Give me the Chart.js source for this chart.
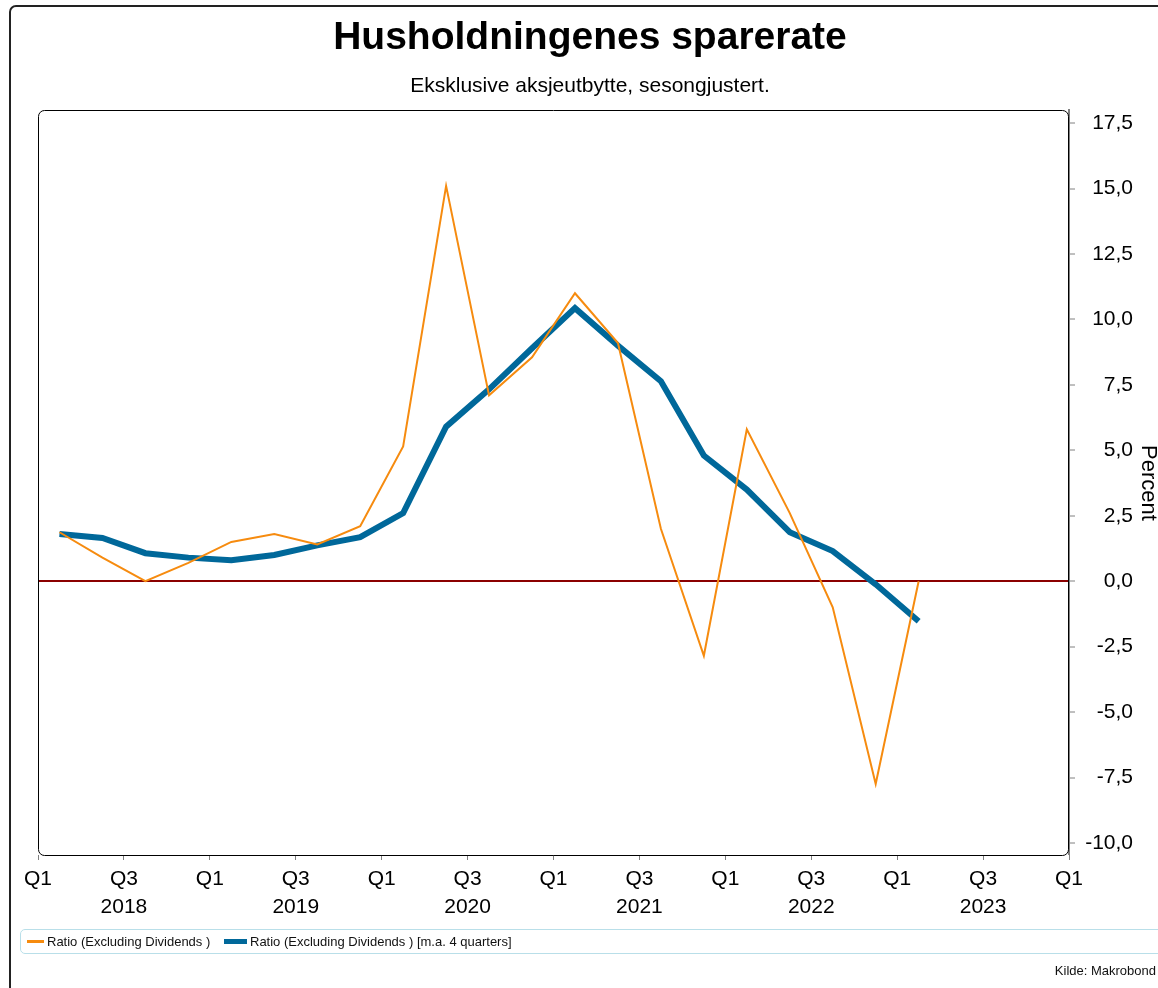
<!DOCTYPE html>
<html>
<head>
<meta charset="utf-8">
<script src="https://cdn.jsdelivr.net/npm/chart.js@4.4.1/dist/chart.umd.min.js"></script>
<style>
    body { margin: 0; background: #fff; font-family: "Liberation Sans", Arial, sans-serif; }
    #wrap { position: relative; width: 1158px; height: 988px; overflow: hidden; }
    #frame { position: absolute; left: 9px; top: 5px; width: 1200px; height: 1100px; border: 2px solid #222; border-radius: 7px; }
    #title { position: absolute; left: 0; width: 1180px; top: 14px; text-align: center; font-weight: bold; font-size: 39px; color: #000; }
    #subtitle { position: absolute; left: 0; width: 1180px; top: 73px; text-align: center; font-size: 21px; color: #000; }
    #chart { position: absolute; left: 0; top: 0; }
    #ytitle { position: absolute; left: 1137px; top: 445px; width: 24px; height: 80px; writing-mode: vertical-rl; font-size: 22px; line-height: 24px; color: #000; }
    #legend { position: absolute; left: 20px; top: 929px; width: 1160px; height: 23px; border: 1px solid #b9dfe9; border-radius: 5px; font-size: 13px; color: #111; }
    .item { position: absolute; top: 4px; white-space: nowrap; }
    .swatch { position: absolute; }
    #source { position: absolute; right: 2px; top: 963px; font-size: 13px; color: #111; }
</style>
</head>
<body>
<div id="wrap">
    <div id="frame"></div>
    <canvas id="chart" width="1158" height="988"></canvas>
    <div id="title">Husholdningenes sparerate</div>
    <div id="subtitle">Eksklusive aksjeutbytte, sesongjustert.</div>
    <div id="ytitle">Percent</div>
    <div id="legend"></div>
    <div id="source">Kilde: Makrobond</div>
</div>
<script>
// quarters from 2018 Q1 to 2023 Q1
const quarters = ["2018 Q1", "2018 Q2", "2018 Q3", "2018 Q4",
    "2019 Q1", "2019 Q2", "2019 Q3", "2019 Q4",
    "2020 Q1", "2020 Q2", "2020 Q3", "2020 Q4",
    "2021 Q1", "2021 Q2", "2021 Q3", "2021 Q4",
    "2022 Q1", "2022 Q2", "2022 Q3", "2022 Q4",
    "2023 Q1"];
const ratio = [1.87, 0.9, 0.0, 0.7, 1.5, 1.8, 1.4, 2.1, 5.15, 15.1, 7.1,
    8.55, 11.0, 9.1, 2.0, -2.85, 5.8, 2.6, -1.0, -7.75, 0.0];
const ratioMA = [1.8, 1.65, 1.07, 0.9, 0.8, 1.0, 1.37, 1.68, 2.6, 5.9, 7.33,
    8.9, 10.43, 9.0, 7.64, 4.8, 3.5, 1.87, 1.15, -0.12, -1.53];
const years = [2018, 2019, 2020, 2021, 2022, 2023, 2024];
const halfYearLabels = ["Q1", "Q3"];
const yTicks = [-10, -7.5, -5, -2.5, 0, 2.5, 5, 7.5, 10, 12.5, 15, 17.5];
const seriesNames = ["Ratio (Excluding Dividends )", "Ratio (Excluding Dividends ) [m.a. 4 quarters]"];

const colors = {
    ratio: "#f68b0f",
    ma: "#00689a",
    zero: "#8b0000",
    axis: "#808080",
};

// x position = quarter index, point sits mid-quarter
function toPoints(values) {
    return values.map((v, i) => ({ x: i + 0.5, y: v }));
}

const xTickValues = [];
for (let q = 0; q <= (years.length - 1) * 4; q += 2) xTickValues.push(q);

const framePlugin = {
    id: "frame",
    afterDatasetsDraw(chart) {
        const a = chart.chartArea;
        const c = chart.ctx;
        c.save();
        c.strokeStyle = "#000";
        c.lineWidth = 1;
        c.beginPath();
        c.roundRect(a.left + 0.5, a.top + 0.5, a.right - a.left - 1, a.bottom - a.top, 6);
        c.stroke();
        c.restore();
    },
};

const chart = new Chart(document.getElementById("chart"), {
    type: "line",
    data: {
        datasets: [
            {
                label: seriesNames[0],
                data: toPoints(ratio),
                borderColor: colors.ratio,
                borderWidth: 2,
                pointRadius: 0,
                tension: 0,
            },
            {
                label: seriesNames[1],
                data: toPoints(ratioMA),
                borderColor: colors.ma,
                borderWidth: 6,
                pointRadius: 0,
                tension: 0,
            },
        ],
    },
    options: {
        responsive: false,
        animation: false,
        layout: { padding: { left: 38, top: 110, right: 25, bottom: 63 } },
        plugins: {
            legend: { display: false },
            tooltip: { enabled: false },
        },
        scales: {
            x: {
                type: "linear",
                min: 0,
                max: (years.length - 1) * 4,
                afterBuildTicks(scale) {
                    scale.ticks = xTickValues.map((v) => ({ value: v }));
                },
                afterFit(scale) { scale.height = 70; },
                border: { display: false },
                grid: {
                    drawOnChartArea: false,
                    drawTicks: true,
                    tickLength: 5,
                    color: colors.axis,
                },
                ticks: {
                    autoSkip: false,
                    maxRotation: 0,
                    padding: 6,
                    color: "#000",
                    font: { family: "Liberation Sans", size: 21, lineHeight: 1.3 },
                    callback(v) {
                        const label = halfYearLabels[(v % 4) / 2];
                        if (v % 4 === 2) return [label, String(years[Math.floor(v / 4)])];
                        return [label, ""];
                    },
                },
            },
            y: {
                type: "linear",
                position: "right",
                min: -10.46,
                max: 18.0,
                afterBuildTicks(scale) {
                    scale.ticks = yTicks.map((v) => ({ value: v }));
                },
                afterFit(scale) { scale.width = 64; },
                border: { display: true, color: colors.axis, width: 2 },
                grid: {
                    drawOnChartArea: true,
                    drawTicks: true,
                    tickLength: 6,
                    tickColor: colors.axis,
                    tickWidth: 1,
                    color: (ctx) => (ctx.tick && ctx.tick.value === 0 ? colors.zero : "rgba(0,0,0,0)"),
                    lineWidth: (ctx) => (ctx.tick && ctx.tick.value === 0 ? 2 : 0),
                },
                ticks: {
                    padding: 10,
                    crossAlign: "far",
                    color: "#000",
                    font: { family: "Liberation Sans", size: 21 },
                    callback: (v) => v.toFixed(1).replace(".", ","),
                },
                title: { display: false },
            },
        },
    },
    plugins: [framePlugin],
});

// legend built from the chart's datasets
const legend = document.getElementById("legend");
const swatches = [
    { left: 6, width: 17, height: 3, textLeft: 26 },
    { left: 203, width: 23, height: 5, textLeft: 229 },
];
chart.data.datasets.forEach((ds, i) => {
    const s = swatches[i];
    const sw = document.createElement("div");
    sw.className = "swatch";
    sw.style.left = s.left + "px";
    sw.style.width = s.width + "px";
    sw.style.height = s.height + "px";
    sw.style.top = (11 - s.height / 2) + "px";
    sw.style.background = ds.borderColor;
    legend.appendChild(sw);
    const t = document.createElement("div");
    t.className = "item";
    t.style.left = s.textLeft + "px";
    t.textContent = ds.label;
    legend.appendChild(t);
});
</script>
</body>
</html>
